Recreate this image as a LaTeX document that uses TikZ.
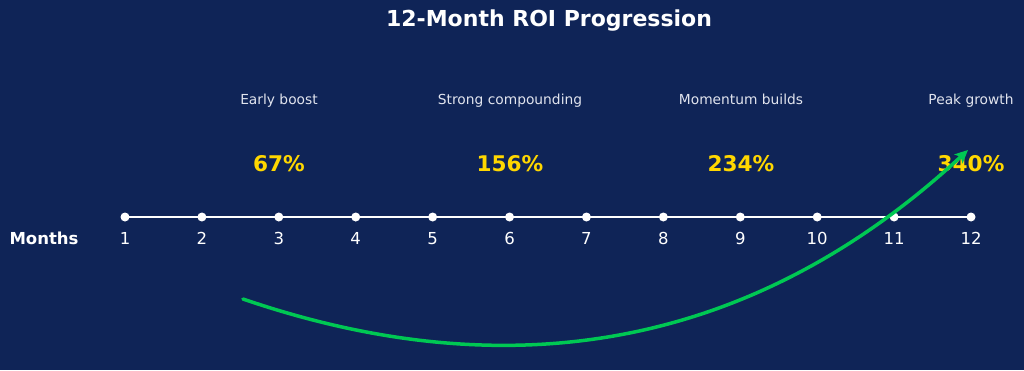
\documentclass[tikz,border=0pt]{standalone}
\usepackage{fontspec}
\setmainfont{DejaVu Sans}
\usetikzlibrary{arrows.meta,calc}
\definecolor{bg}{RGB}{15,36,87}
\definecolor{gold}{RGB}{255,215,0}
\definecolor{grn}{RGB}{0,200,83}
\definecolor{desc}{RGB}{225,228,238}
\tikzset{
  tick/.style={circle,fill=white,inner sep=0pt,minimum size=9pt},
  ticklab/.style={text=white,font=\fontsize{16.5}{19}\selectfont,anchor=base,inner sep=0pt},
  pct/.style={text=gold,font=\bfseries\fontsize{21.6}{25}\selectfont,anchor=base,inner sep=0pt},
  desclab/.style={text=desc,font=\fontsize{13.8}{16}\selectfont,anchor=base,inner sep=0pt},
}
\begin{document}
\begin{tikzpicture}[x=1pt,y=-1pt]
\useasboundingbox[fill=bg] (0,0) rectangle (1024,370);
\node[text=white,font=\bfseries\fontsize{22}{26}\selectfont,anchor=base,inner sep=0pt] (title) at (549,26.7) {12-Month ROI Progression};
\foreach \i in {1,...,12}{
  \coordinate (p\i) at ({125+(\i-1)*76.91},217);
}
\draw[white,line width=2.5pt] (p1) -- (p12);
\foreach \i in {1,...,12}{
  \node[tick] (t\i) at (p\i) {};
  \node[ticklab] (l\i) at ({125+(\i-1)*76.91},244) {\i};
}
\node[text=white,font=\bfseries\fontsize{16.5}{19}\selectfont,anchor=base,inner sep=0pt] (months) at (44,244) {Months};
\node[desclab] (d3) at (279,104) {Early boost};
\node[desclab] (d6) at (510,104) {Strong compounding};
\node[desclab] (d9) at (741,104) {Momentum builds};
\node[desclab] (d12) at (971,104) {Peak growth};
\node[pct] (v3) at (279,171.5) {67\%};
\node[pct] (v6) at (510,171.5) {156\%};
\node[pct] (v9) at (741,171.5) {234\%};
\node[pct] (v12) at (971,171.5) {340\%};
\coordinate (cs) at (243,299);
\coordinate (ce) at (968,150);
\coordinate (cc) at (655,440);
\draw[grn,line width=3.5pt,line cap=round,-{Stealth[length=13pt,width=12pt,inset=3pt]}] (cs) .. controls ($(cs)!0.6667!(cc)$) and ($(ce)!0.6667!(cc)$) .. (ce);
\end{tikzpicture}
\end{document}
